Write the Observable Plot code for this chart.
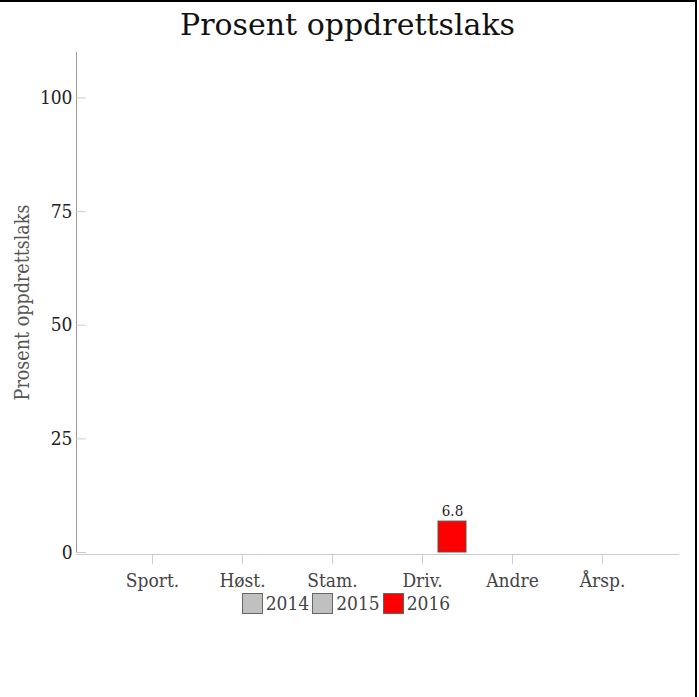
<!DOCTYPE html>
<html><head><meta charset="utf-8">
<script src="https://cdn.jsdelivr.net/npm/d3@7"></script>
<script src="https://cdn.jsdelivr.net/npm/@observablehq/plot@0.6"></script>
<style>
html,body{margin:0;padding:0;background:#fff;}
#wrap{position:relative;width:695px;height:695px;border-top:2px solid #000;border-right:2px solid #000;font-family:"DejaVu Serif";}
#title{height:40px;padding-top:8px;text-align:center;font-size:30px;line-height:30px;color:#111;}
#chart svg{display:block;}
#legend{display:flex;justify-content:center;align-items:center;font-size:19px;color:#444;font-stretch:semi-condensed;}
.item{display:flex;align-items:center;margin:0 3px 0 0;}
.sw{width:19px;height:19px;border:1px solid #666;margin-right:3px;box-sizing:content-box;}
</style></head>
<body>
<div id="wrap">
<div id="title">Prosent oppdrettslaks</div>
<div id="chart"></div>
<div id="legend"></div>
</div>
<script>
const categories = ["Sport.", "Høst.", "Stam.", "Driv.", "Andre", "Årsp."];
const years = ["2014", "2015", "2016"];
const values2014 = [null, null, null, null, null, null];
const values2015 = [null, null, null, null, null, null];
const values2016 = [null, null, null, 6.8, null, null];
const yearColors = ["#c0c0c0", "#c0c0c0", "#ff0000"];
const yTicks = [0, 25, 50, 75, 100];
const yLabel = "Prosent oppdrettslaks";

const series = [values2014, values2015, values2016];
const key = (c, y) => c + "|" + y;
const keys = categories.flatMap(c => years.map(y => key(c, y)));
const data = [];
categories.forEach((c, i) => {
  series.forEach((arr, j) => {
    if (arr[i] != null) data.push({category: c, year: years[j], key: key(c, years[j]), value: arr[i]});
  });
});

const chart = Plot.plot({
  width: 695,
  height: 542,
  marginLeft: 76,
  marginRight: 17,
  marginTop: 2,
  marginBottom: 40,
  style: {fontFamily: "DejaVu Serif", fontStretch: "semi-condensed", fontSize: "19px", color: "#222", background: "transparent", overflow: "visible"},
  x: {domain: keys, paddingInner: 0.053, paddingOuter: 1.04, axis: null},
  y: {domain: [0, 110], axis: null},
  color: {domain: years, range: yearColors},
  marks: [
    Plot.frame({anchor: "left", stroke: "#999"}),
    Plot.frame({anchor: "bottom", stroke: "#ccc", dy: 2}),
    Plot.axisY({ticks: yTicks, tickSize: -10, stroke: "#ccc", fill: "none", label: null}),
    Plot.axisY({ticks: yTicks, tickSize: 0, tickPadding: 4, fill: "#222", fontSize: 19, label: null}),
    Plot.axisY({ticks: [], tickSize: 0, fill: "#555", fontSize: 19.5,
      label: yLabel, labelAnchor: "center", labelArrow: "none", labelOffset: 61}),
    Plot.axisX({ticks: categories.map(c => key(c, years[1])), tickFormat: k => k.split("|")[0],
      tickSize: 9, tickPadding: 9, dy: 3, stroke: "#ccc", fill: "#444", fontSize: 19, label: null}),
    Plot.barY(data, {x: "key", y: "value", fill: "year", stroke: "#555", strokeWidth: 1}),
    Plot.text(data, {x: "key", y: "value", text: d => String(d.value), dy: -6, lineAnchor: "bottom", fontSize: 15, fill: "#222"})
  ]
});
document.getElementById("chart").appendChild(chart);

const legend = document.getElementById("legend");
years.forEach((y, i) => {
  const item = document.createElement("div");
  item.className = "item";
  const sw = document.createElement("div");
  sw.className = "sw";
  sw.style.background = yearColors[i];
  const t = document.createElement("span");
  t.textContent = y;
  item.appendChild(sw);
  item.appendChild(t);
  legend.appendChild(item);
});
</script>
</body></html>
